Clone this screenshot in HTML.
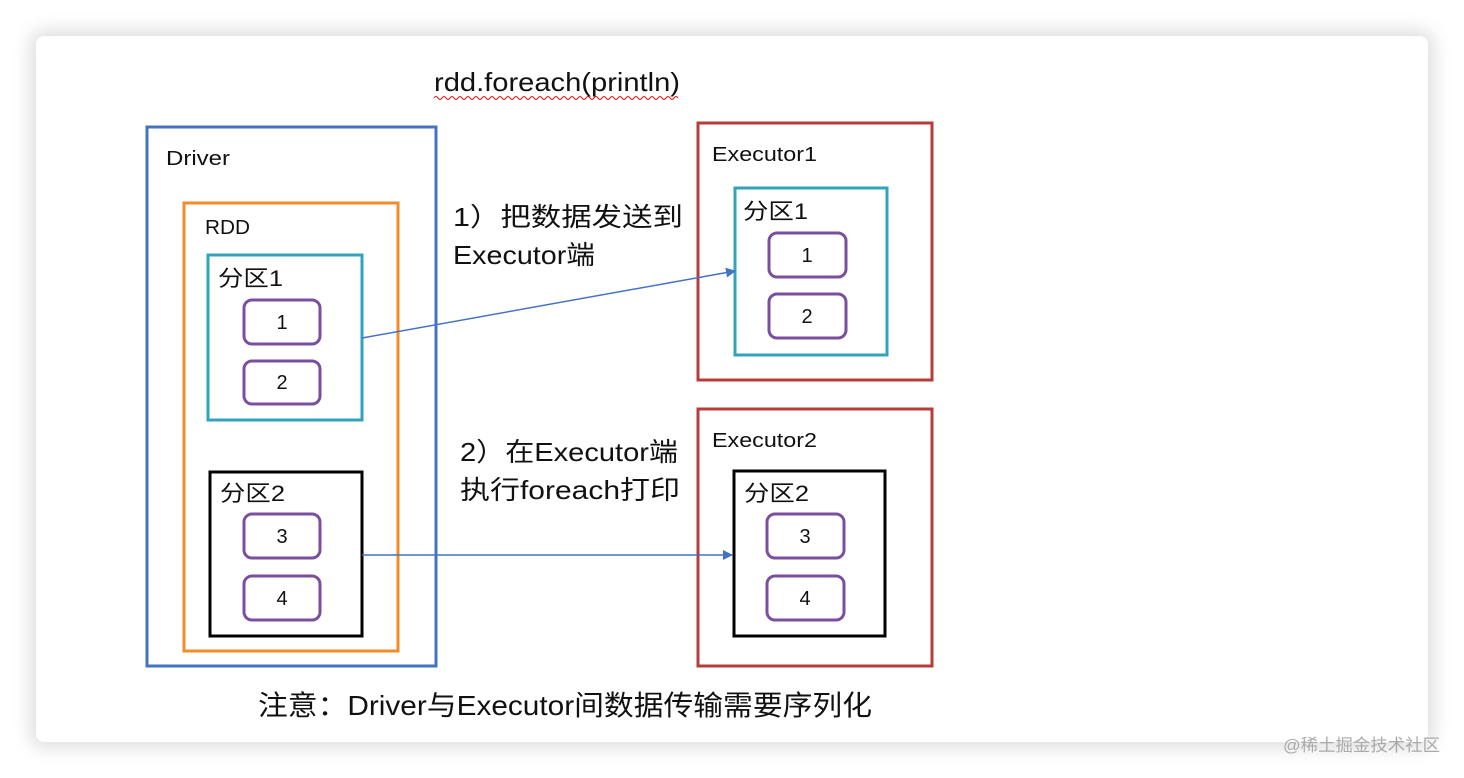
<!DOCTYPE html>
<html><head><meta charset="utf-8"><style>
html,body{margin:0;padding:0;background:#fff;width:1464px;height:778px;overflow:hidden}
.card{position:absolute;left:36px;top:36px;width:1392px;height:706px;background:#fff;border-radius:8px;box-shadow:0 0 18px 6px rgba(0,0,0,0.13)}
svg{position:absolute;left:0;top:0}
text{font-family:"Liberation Sans","Noto Sans CJK SC",sans-serif;fill:#111}
</style></head><body>
<div class="card"></div>
<svg width="1464" height="778" viewBox="0 0 1464 778">
<defs><marker id="a" markerWidth="10" markerHeight="10" refX="9" refY="5" orient="auto" markerUnits="userSpaceOnUse"><path d="M0,0 L10,5 L0,10 z" fill="#4472c4"/></marker></defs>
<g fill="none">
<rect x="147" y="127" width="289" height="539" stroke="#4472c4" stroke-width="3"/>
<rect x="184" y="203" width="214" height="448" stroke="#f28c28" stroke-width="3"/>
<rect x="208" y="255" width="154" height="165" stroke="#31a3bd" stroke-width="3"/>
<rect x="210" y="472" width="152" height="164" stroke="#000" stroke-width="3"/>
<rect x="698" y="123" width="234" height="257" stroke="#b83b3b" stroke-width="3"/>
<rect x="735" y="188" width="152" height="167" stroke="#31a3bd" stroke-width="3"/>
<rect x="698" y="409" width="234" height="257" stroke="#b83b3b" stroke-width="3"/>
<rect x="734" y="471" width="151" height="165" stroke="#000" stroke-width="3"/>
<g stroke="#7b4fa0" stroke-width="3">
<rect x="244" y="300" width="76" height="44" rx="8"/>
<rect x="244" y="361" width="76" height="43" rx="8"/>
<rect x="244" y="514" width="76" height="44" rx="8"/>
<rect x="244" y="576" width="76" height="44" rx="8"/>
<rect x="769" y="233" width="77" height="44" rx="8"/>
<rect x="769" y="294" width="77" height="44" rx="8"/>
<rect x="767" y="514" width="77" height="44" rx="8"/>
<rect x="767" y="576" width="77" height="44" rx="8"/>
</g>
<line x1="362" y1="338" x2="735" y2="271" stroke="#4472c4" stroke-width="1.5" marker-end="url(#a)"/>
<line x1="362" y1="555" x2="732" y2="555" stroke="#4472c4" stroke-width="1.5" marker-end="url(#a)"/>
<path d="M434,98 q2,-3 4,0 t4,0 t4,0 t4,0 t4,0 t4,0 t4,0 t4,0 t4,0 t4,0 t4,0 t4,0 t4,0 t4,0 t4,0 t4,0 t4,0 t4,0 t4,0 t4,0 t4,0 t4,0 t4,0 t4,0 t4,0 t4,0 t4,0 t4,0 t4,0 t4,0 t4,0 t4,0 t4,0 t4,0 t4,0 t4,0 t4,0 t4,0 t4,0 t4,0 t4,0 t4,0 t4,0 t4,0 t4,0 t4,0 t4,0 t4,0 t4,0 t4,0 t4,0 t4,0 t4,0 t4,0 t4,0 t4,0 t4,0 t4,0 t4,0 t4,0 t4,0" stroke="#e03030" stroke-width="1.2"/>
</g>
<text x="434" y="91" font-size="26" textLength="246" lengthAdjust="spacingAndGlyphs">rdd.foreach(println)</text>
<text x="166" y="165" font-size="20" textLength="64" lengthAdjust="spacingAndGlyphs">Driver</text>
<text x="205" y="234" font-size="20" textLength="45" lengthAdjust="spacingAndGlyphs">RDD</text>
<text x="218" y="286" font-size="22" textLength="65" lengthAdjust="spacingAndGlyphs">分区1</text>
<text x="220" y="501" font-size="22" textLength="65" lengthAdjust="spacingAndGlyphs">分区2</text>
<text x="712" y="161" font-size="20" textLength="105" lengthAdjust="spacingAndGlyphs">Executor1</text>
<text x="743" y="219" font-size="22" textLength="65" lengthAdjust="spacingAndGlyphs">分区1</text>
<text x="712" y="447" font-size="20" textLength="105" lengthAdjust="spacingAndGlyphs">Executor2</text>
<text x="744" y="501" font-size="22" textLength="65" lengthAdjust="spacingAndGlyphs">分区2</text>
<g font-size="20" text-anchor="middle">
<text x="282" y="329">1</text><text x="282" y="389">2</text>
<text x="282" y="543">3</text><text x="282" y="605">4</text>
<text x="807" y="262">1</text><text x="807" y="323">2</text>
<text x="805" y="543">3</text><text x="805" y="605">4</text>
</g>
<text x="453" y="226" font-size="26" textLength="230" lengthAdjust="spacingAndGlyphs">1）把数据发送到</text>
<text x="453" y="264" font-size="26" textLength="142" lengthAdjust="spacingAndGlyphs">Executor端</text>
<text x="460" y="461" font-size="26" textLength="218" lengthAdjust="spacingAndGlyphs">2）在Executor端</text>
<text x="460" y="499" font-size="26" textLength="220" lengthAdjust="spacingAndGlyphs">执行foreach打印</text>
<text x="258" y="715" font-size="28" textLength="614" lengthAdjust="spacingAndGlyphs">注意：Driver与Executor间数据传输需要序列化</text>
<text x="1283" y="751" font-size="17" textLength="157" lengthAdjust="spacingAndGlyphs" style="fill:#aaa">@稀土掘金技术社区</text>
</svg>
</body></html>
